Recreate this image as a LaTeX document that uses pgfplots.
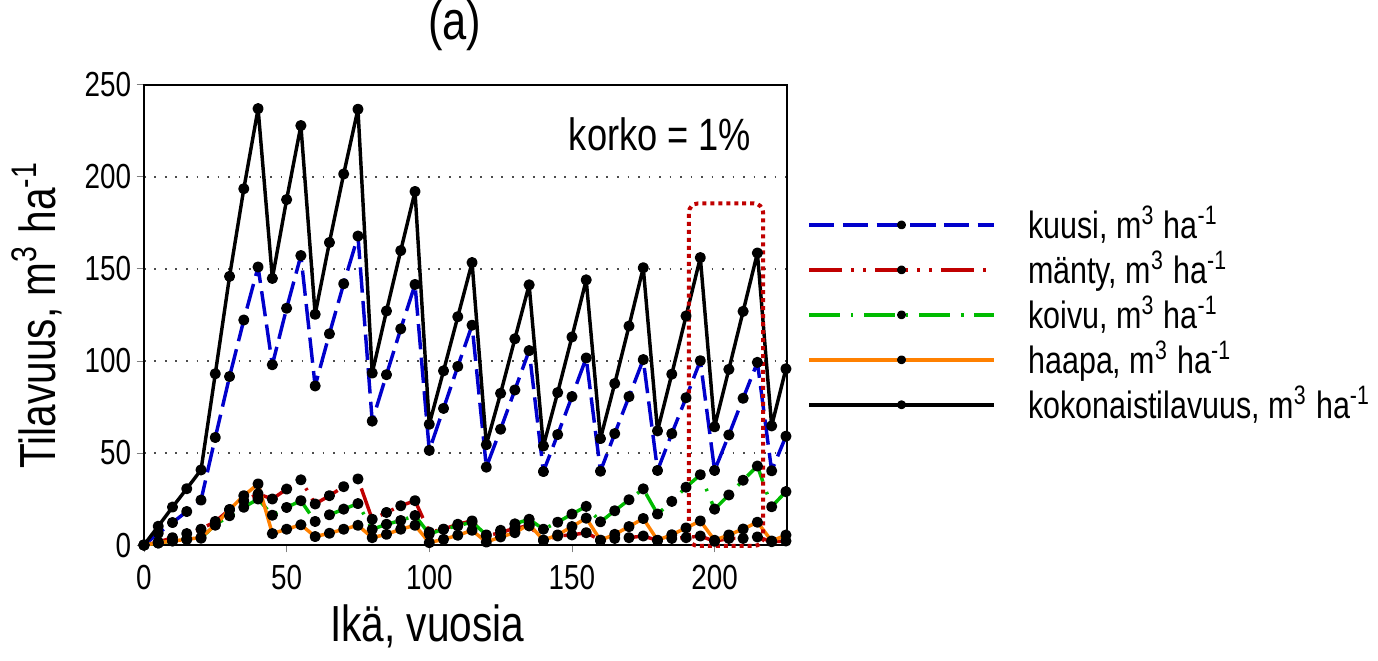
\documentclass[border=0pt]{standalone}
\usepackage{fontspec}
\setmainfont{Liberation Sans}[FakeStretch=0.8]
\usepackage{pgfplots}
\pgfplotsset{compat=1.18}
\definecolor{kuusi}{RGB}{0,0,204}
\definecolor{manty}{RGB}{192,0,0}
\definecolor{koivu}{RGB}{0,187,0}
\definecolor{haapa}{RGB}{255,128,0}

\begin{document}
\begin{tikzpicture}
\begin{axis}[
    scale only axis, width=177.5pt, height=127pt,
    xmin=0, xmax=225.5, ymin=0, ymax=250,
    xtick={0,50,...,200}, ytick={0,50,...,250},
    tick align=outside, xtick pos=bottom, ytick pos=left,
    major tick length=2pt,
    axis line style={line width=0.5pt},
    ymajorgrids,
    grid style={black!70, dash pattern=on 0.5pt off 2.4pt, line width=0.45pt},
    tick label style={font=\fontsize{9.6}{11.5}\selectfont},
    yticklabel style={xshift=2pt},
    /pgf/number format/assume math mode=true,
    xlabel={Ikä, vuosia},
    ylabel={Tilavuus, m\textsuperscript{3} ha\textsuperscript{-1}},
    label style={font=\fontsize{14}{17}\selectfont},
    xlabel style={at={(axis description cs:0.44,-0.21)}, anchor=base},
    ylabel style={at={(axis description cs:-0.137,0.5)}, anchor=base},
    clip=false,
    every axis plot/.append style={line width=0.95pt, line join=round},
    mark size=1.05pt,
    legend style={at={(1.03,0.5)}, anchor=west, draw=none, fill=none,
        inner sep=0pt,
        font=\fontsize{10.5}{12.6}\selectfont, row sep=-2.2pt,
        cells={anchor=west}},
    legend image code/.code={
        \draw[mark repeat=2, mark phase=2, mark size=0.75pt]
        plot coordinates {(0pt,0pt) (25.5pt,0pt) (51pt,0pt)};
        \path (58pt,0pt);},
]
% kuusi
\addplot[kuusi, dash pattern=on 7pt off 2.3pt,
    mark=*, mark options={solid, fill=black, draw=black}] coordinates {
(0,0) (5,6.4) (10,12.2) (15,18.2) (20,24.4) (25,58.4) (30,91.5) (35,122.2)
(40,151) (45,97.9) (50,128.6) (55,157.2) (60,86.4) (65,114.7) (70,141.9)
(75,167.8) (80,67.3) (85,92.5) (90,117.4) (95,141.5) (100,51.4) (105,74.2)
(110,97) (115,119.4) (120,42.3) (125,62.9) (130,84.2) (135,105.6) (140,39.9)
(145,60) (150,80.6) (155,101.6) (160,40.1) (165,60.5) (170,80.6) (175,100.7)
(180,40.5) (185,60.5) (190,80) (195,100.1) (200,40.5) (205,59.8) (210,79.7)
(215,99.2) (220,40.3) (225,59.1)
};
% mänty
\addplot[manty, dash pattern=on 9pt off 2.6pt on 0.7pt off 2.6pt on 0.7pt off 2.6pt,
    mark=*, mark options={solid, fill=black, draw=black}] coordinates {
(0,0) (5,1.6) (10,4.0) (15,6.2) (20,8.6) (25,12.8) (30,19.2) (35,24)
(40,27.8) (45,25) (50,30.4) (55,35.4) (60,22.3) (65,26.8) (70,31.7)
(75,35.9) (80,14) (85,17.7) (90,21.3) (95,24.1) (100,7) (105,8.6)
(110,11.3) (115,13.1) (120,5) (125,6.7) (130,9.2) (135,10.4) (140,2.6)
(145,4.9) (150,5.5) (155,6.7) (160,2.6) (165,3.6) (170,4) (175,4.9)
(180,2.5) (185,3.6) (190,4) (195,4.9) (200,2) (205,3.6) (210,3.6)
(215,4.4) (220,1.8) (225,2.2)
};
% koivu
\addplot[koivu, dash pattern=on 8.5pt off 3pt on 0.7pt off 3pt,
    mark=*, mark options={solid, fill=black, draw=black}] coordinates {
(0,0) (5,1.1) (10,2.2) (15,3.1) (20,3.7) (25,11) (30,15.9) (35,20.5)
(40,25) (45,16.2) (50,20.4) (55,24.1) (60,12.8) (65,16.4) (70,19.5)
(75,22.5) (80,8.5) (85,11.3) (90,13.3) (95,16) (100,6) (105,8.6)
(110,10.4) (115,12.5) (120,5.5) (125,8) (130,11.5) (135,14) (140,8.6)
(145,12.4) (150,16.8) (155,21) (160,12.6) (165,18.6) (170,24.6) (175,30.5)
(180,16.8) (185,23.7) (190,31.4) (195,38.2) (200,19.5) (205,27.2) (210,35.2)
(215,42.9) (220,20.8) (225,29)
};
% haapa
\addplot[haapa, solid,
    mark=*, mark options={solid, fill=black, draw=black}] coordinates {
(0,0) (5,1.1) (10,2.2) (15,3.1) (20,4.1) (25,10.8) (30,19.3) (35,26.8)
(40,33.2) (45,6.2) (50,8.6) (55,11) (60,4.6) (65,6.4) (70,8.6)
(75,10.7) (80,4) (85,5.8) (90,8.6) (95,10.7) (100,1.3) (105,3.1)
(110,5.3) (115,8) (120,1.6) (125,4.4) (130,6.7) (135,11.3) (140,2.6)
(145,5.5) (150,10) (155,14.6) (160,2.6) (165,5.8) (170,10) (175,14.4)
(180,2.6) (185,5.6) (190,9.3) (195,13.1) (200,2.6) (205,5.5) (210,8.7)
(215,12.4) (220,2.2) (225,5.4)
};
% kokonaistilavuus
\addplot[black, solid,
    mark=*, mark options={solid, fill=black, draw=black}] coordinates {
(0,0) (5,10.2) (10,20.6) (15,30.6) (20,40.8) (25,93) (30,145.9) (35,193.5)
(40,237) (45,144.8) (50,187.6) (55,227.8) (60,125.3) (65,164.3) (70,201.5)
(75,236.7) (80,93.4) (85,127.1) (90,159.9) (95,192) (100,65.6) (105,94.6)
(110,124) (115,153.4) (120,54.5) (125,82.4) (130,112) (135,141.3) (140,53.8)
(145,82.8) (150,113) (155,144) (160,57.8) (165,87.7) (170,118.9) (175,150.6)
(180,62) (185,92.8) (190,124.4) (195,156.1) (200,64.2) (205,95.4) (210,126.9)
(215,158.6) (220,64.7) (225,95.7)
};
\legend{kuusi{,} m\textsuperscript{3} ha\textsuperscript{-1},
        mänty{,} m\textsuperscript{3} ha\textsuperscript{-1},
        koivu{,} m\textsuperscript{3} ha\textsuperscript{-1},
        haapa{,} m\textsuperscript{3} ha\textsuperscript{-1},
        kokonaistilavuus{,} m\textsuperscript{3} ha\textsuperscript{-1}}
\draw[manty, line width=1.1pt, dash pattern=on 1.1pt off 1.1pt, rounded corners=2.5pt]
    (axis cs:191,-0.5) rectangle (axis cs:217,185.5);
\node[anchor=north east, inner sep=0pt, font=\fontsize{12.5}{15}\selectfont]
    at (rel axis cs:0.945,0.93) {korko = 1\%};
\node[anchor=base, inner sep=0pt, font=\fontsize{15}{18}\selectfont, yshift=12.5pt]
    at (rel axis cs:0.483,1) {(a)};
\end{axis}
\end{tikzpicture}
\end{document}
